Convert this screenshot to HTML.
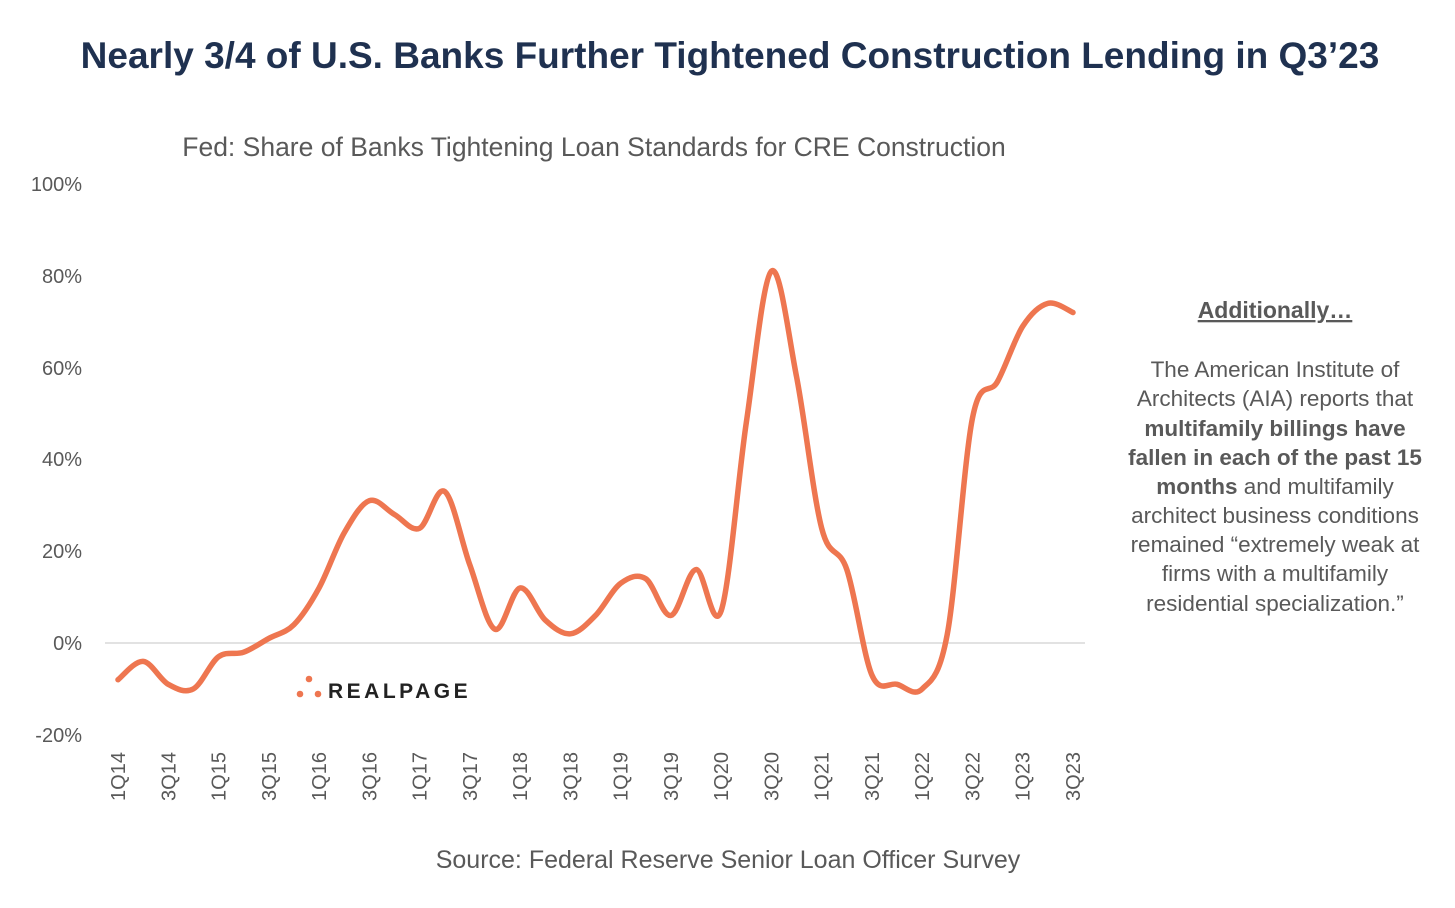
<!DOCTYPE html>
<html><head><meta charset="utf-8"><style>
body{margin:0;width:1455px;height:903px;background:#fff;font-family:"Liberation Sans",sans-serif;overflow:hidden}
</style></head><body>
<svg width="1455" height="903" viewBox="0 0 1455 903" xmlns="http://www.w3.org/2000/svg" font-family="Liberation Sans, sans-serif">
<text x="730" y="68" text-anchor="middle" font-size="37" font-weight="bold" fill="#1f3150">Nearly 3/4 of U.S. Banks Further Tightened Construction Lending in Q3’23</text>
<text x="594" y="156" text-anchor="middle" font-size="26.5" fill="#595959">Fed: Share of Banks Tightening Loan Standards for CRE Construction</text>
<g font-size="20" fill="#595959" text-anchor="end">
<text x="82" y="191">100%</text><text x="82" y="283">80%</text><text x="82" y="375">60%</text>
<text x="82" y="466">40%</text><text x="82" y="558">20%</text><text x="82" y="650">0%</text><text x="82" y="742">-20%</text>
</g>
<line x1="105" y1="643" x2="1085" y2="643" stroke="#d9d9d9" stroke-width="1.5"/>
<g id="xl" font-size="20" fill="#595959"></g>
<path id="ln" fill="none" stroke="#ee7650" stroke-width="5.5" stroke-linecap="round" stroke-linejoin="round"/>
<circle cx="309" cy="679" r="3.3" fill="#ee7650"/><circle cx="300" cy="694" r="3.3" fill="#ee7650"/><circle cx="318" cy="694" r="3.3" fill="#ee7650"/>
<text x="328" y="698" font-size="21" font-weight="bold" fill="#222" letter-spacing="3.5">REALPAGE</text>
<text x="1275" y="318" text-anchor="middle" font-size="23" font-weight="bold" fill="#595959" text-decoration="underline">Additionally…</text>
<g font-size="22.5" fill="#595959" text-anchor="middle">
<text x="1275" y="377">The American Institute of</text>
<text x="1275" y="406">Architects (AIA) reports that</text>
<text x="1275" y="436" font-weight="bold">multifamily billings have</text>
<text x="1275" y="465" font-weight="bold">fallen in each of the past 15</text>
<text x="1275" y="494"><tspan font-weight="bold">months</tspan> and multifamily</text>
<text x="1275" y="523">architect business conditions</text>
<text x="1275" y="552">remained “extremely weak at</text>
<text x="1275" y="581">firms with a multifamily</text>
<text x="1275" y="611">residential specialization.”</text>
</g>
<text x="728" y="868" text-anchor="middle" font-size="25" fill="#595959">Source: Federal Reserve Senior Loan Officer Survey</text>
</svg>
<script>
var d=[-8,-4,-9,-10,-3,-2,1,4,12,24,31,28,25,33,17,3,12,5,2,6,13,14,6,16,7,48,81,58,25,16,-7,-9,-10,2,49,57,69,74,72];
var x0=118,st=(1073-118)/38;
function Y(v){return 643-v*4.59}
var p=d.map(function(v,i){return[x0+i*st,Y(v)]});
var s="M"+p[0][0]+","+p[0][1];
for(var i=0;i<p.length-1;i++){var a=p[i-1]||p[i],b=p[i],c=p[i+1],e=p[i+2]||c;
s+=" C"+(b[0]+(c[0]-a[0])/6)+","+(b[1]+(c[1]-a[1])/6)+" "+(c[0]-(e[0]-b[0])/6)+","+(c[1]-(e[1]-b[1])/6)+" "+c[0]+","+c[1];}
document.getElementById("ln").setAttribute("d",s);
var g=document.getElementById("xl"),h="";
for(var i=0;i<39;i+=2){var q=(i%4==0?1:3)+"Q"+(14+Math.floor(i/4));var x=x0+i*st+7;
h+='<text transform="translate('+x+',752) rotate(-90)" text-anchor="end">'+q+'</text>';}
g.innerHTML=h;
</script>
</body></html>
